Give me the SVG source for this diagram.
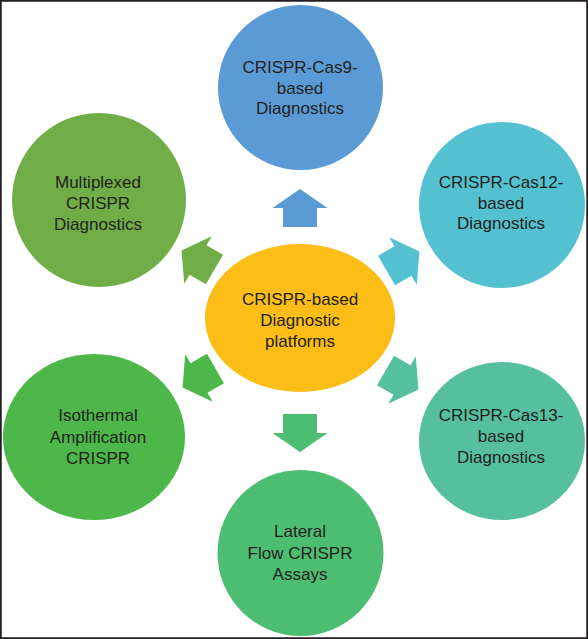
<svg xmlns="http://www.w3.org/2000/svg" width="588" height="639" viewBox="0 0 588 639">
<style>
  .t { font-family: "Liberation Sans", Arial, sans-serif; font-size: 17px; fill: #231F20; text-anchor: middle; }
</style>
<defs>
  <path id="arr" d="M19,0 L0,-27.5 L0,-17 L-19,-17 L-19,17 L0,17 L0,27.5 Z"/>
</defs>
<rect x="0.75" y="0.75" width="586.5" height="637.5" fill="#FFFFFF" stroke="#231F20" stroke-width="1.5"/>
<g id="connectors">
  <use href="#arr" transform="translate(300,208) rotate(-90)" fill="#5B9BD5"/>
  <use href="#arr" transform="translate(403,261) rotate(-30)" fill="#53C1D0"/>
  <use href="#arr" transform="translate(402,380) rotate(30)" fill="#55BF9F"/>
  <use href="#arr" transform="translate(300,433) rotate(90)" fill="#4DBD72"/>
  <use href="#arr" transform="translate(199,378) rotate(150)" fill="#4DB74A"/>
  <use href="#arr" transform="translate(198,260) rotate(-150)" fill="#70AD47"/>
</g>
<g id="center">
  <ellipse cx="300" cy="318" rx="95" ry="74" fill="#FBBD16"/>
  <text class="t" x="300" y="305">CRISPR-based</text>
  <text class="t" x="300" y="326">Diagnostic</text>
  <text class="t" x="300" y="347">platforms</text>
</g>
<g id="cas9">
  <circle cx="300.5" cy="87.5" r="82.5" fill="#5B9BD5"/>
  <text class="t" x="300" y="73">CRISPR-Cas9-</text>
  <text class="t" x="300" y="94">based</text>
  <text class="t" x="300" y="114">Diagnostics</text>
</g>
<g id="cas12">
  <circle cx="502" cy="205" r="83" fill="#53C1D0"/>
  <text class="t" x="501" y="188">CRISPR-Cas12-</text>
  <text class="t" x="501" y="209">based</text>
  <text class="t" x="501" y="229">Diagnostics</text>
</g>
<g id="cas13">
  <ellipse cx="502" cy="441" rx="83" ry="79" fill="#55BF9F"/>
  <text class="t" x="501" y="421">CRISPR-Cas13-</text>
  <text class="t" x="501" y="442">based</text>
  <text class="t" x="501" y="463">Diagnostics</text>
</g>
<g id="lateral">
  <circle cx="300.5" cy="553" r="83" fill="#4DBD72"/>
  <text class="t" x="300" y="537">Lateral</text>
  <text class="t" x="300" y="559">Flow CRISPR</text>
  <text class="t" x="300" y="580">Assays</text>
</g>
<g id="isothermal">
  <ellipse cx="94" cy="437" rx="91" ry="83" fill="#4DB74A"/>
  <text class="t" x="98" y="421">Isothermal</text>
  <text class="t" x="98" y="443">Amplification</text>
  <text class="t" x="98" y="464">CRISPR</text>
</g>
<g id="multiplexed">
  <ellipse cx="99" cy="200" rx="87" ry="87" fill="#70AD47"/>
  <text class="t" x="98" y="188">Multiplexed</text>
  <text class="t" x="98" y="209">CRISPR</text>
  <text class="t" x="98" y="230">Diagnostics</text>
</g>
<rect x="0.75" y="0.75" width="586.5" height="637.5" fill="none" stroke="#231F20" stroke-width="1.5"/>
</svg>
